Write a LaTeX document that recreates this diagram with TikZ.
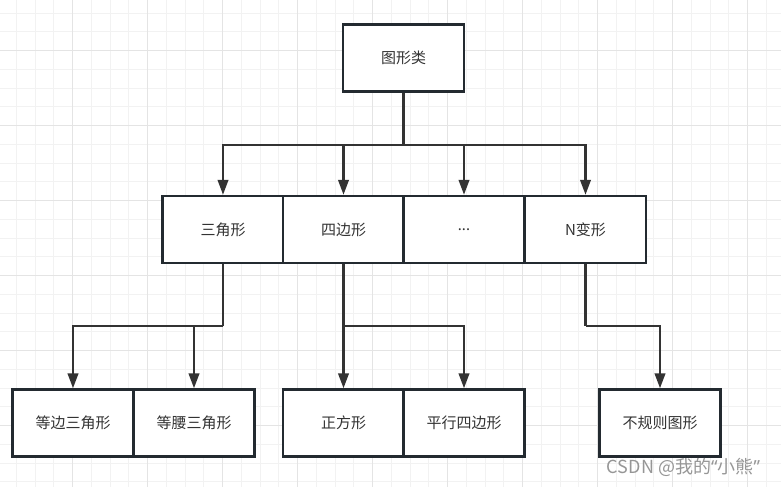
\documentclass[tikz,border=0pt]{standalone}
\usepackage{fontspec}
\setmainfont{Noto Sans CJK SC}
\newfontfamily\latinfont{Noto Sans}
\usepackage{xcolor}
\usetikzlibrary{arrows.meta,positioning}
\definecolor{boxline}{RGB}{35,42,48}
\definecolor{wire}{RGB}{51,51,51}
\definecolor{txt}{RGB}{51,51,51}
\definecolor{gridminor}{RGB}{242,242,242}
\definecolor{gridmajor}{RGB}{228,228,228}
\definecolor{mark}{RGB}{150,150,150}

\begin{document}
\begin{tikzpicture}[x=1pt,y=-1pt,
    shapebox/.style={draw=boxline,fill=white,line width=2.4pt,text=txt,font=\fontsize{15}{18}\selectfont,minimum width=121pt,minimum height=67pt,inner sep=0pt,align=center},
    ed/.style={draw=wire,line width=2.4pt},
    arr/.style={ed,-{Triangle[length=15pt,width=10.5pt]}},
    minor/.style={draw=gridminor,line width=1pt},
    major/.style={draw=gridmajor,line width=1pt}]
   \useasboundingbox (0,0) rectangle (781,487);
   \fill[white] (0,0) rectangle (781,487);
   % grid
   \foreach \k in {0,...,42} {\draw[minor] (-2.3+18.75*\k,0) -- (-2.3+18.75*\k,487);}
   \foreach \k in {0,...,26} {\draw[minor] (0,-5.55+18.75*\k) -- (781,-5.55+18.75*\k);}
   \foreach \k in {0,...,9} {\draw[major] (72.7+75*\k,0) -- (72.7+75*\k,487);}
   \foreach \k in {0,...,5} {\draw[major] (0,50.7+75*\k) -- (781,50.7+75*\k);}
   % nodes
   \node[shapebox] (top) at (403.5,58)    {图形类};
   \node[shapebox] (tri) at (223,229.5)   {三角形};
   \node[shapebox] (quad) at (343.5,229.5) {四边形};
   \node[shapebox] (dots) at (464,229.5)  {\latinfont ...};
   \node[shapebox] (ngon) at (585.5,229.5) {N变形};
   \node[shapebox] (equi) at (73,423)     {等边三角形};
   \node[shapebox] (isos) at (194,423)    {等腰三角形};
   \node[shapebox] (sqr) at (343.5,423)   {正方形};
   \node[shapebox] (para) at (464,423)    {平行四边形};
   \node[shapebox] (irr) at (660,423)     {不规则图形};
   \node[text=mark,font=\fontsize{18}{20}\selectfont,anchor=center] (wm) at (683.5,467) {CSDN @我的{\latinfont“}小熊{\latinfont”}};
   % connectors
   \coordinate (jt) at (403.5,145);
   \coordinate (jtri) at (223,326);
   \coordinate (jquad) at (343.5,326);
   \coordinate (jngon) at (585.5,326);
   \draw[ed] (top.south) -- (jt);
   \draw[arr] (jt) -| (tri.north);
   \draw[arr] (jt) -| (quad.north);
   \draw[arr] (jt) -| (dots.north);
   \draw[arr] (jt) -| (ngon.north);
   \draw[ed] (tri.south) -- (jtri);
   \draw[arr] (jtri) -| (equi.north);
   \draw[arr] (jtri) -| (isos.north);
   \draw[ed] (quad.south) -- (jquad);
   \draw[arr] (jquad) -| (sqr.north);
   \draw[arr] (jquad) -| (para.north);
   \draw[ed] (ngon.south) -- (jngon);
   \draw[arr] (jngon) -| (irr.north);
  \end{tikzpicture}
\end{document}
